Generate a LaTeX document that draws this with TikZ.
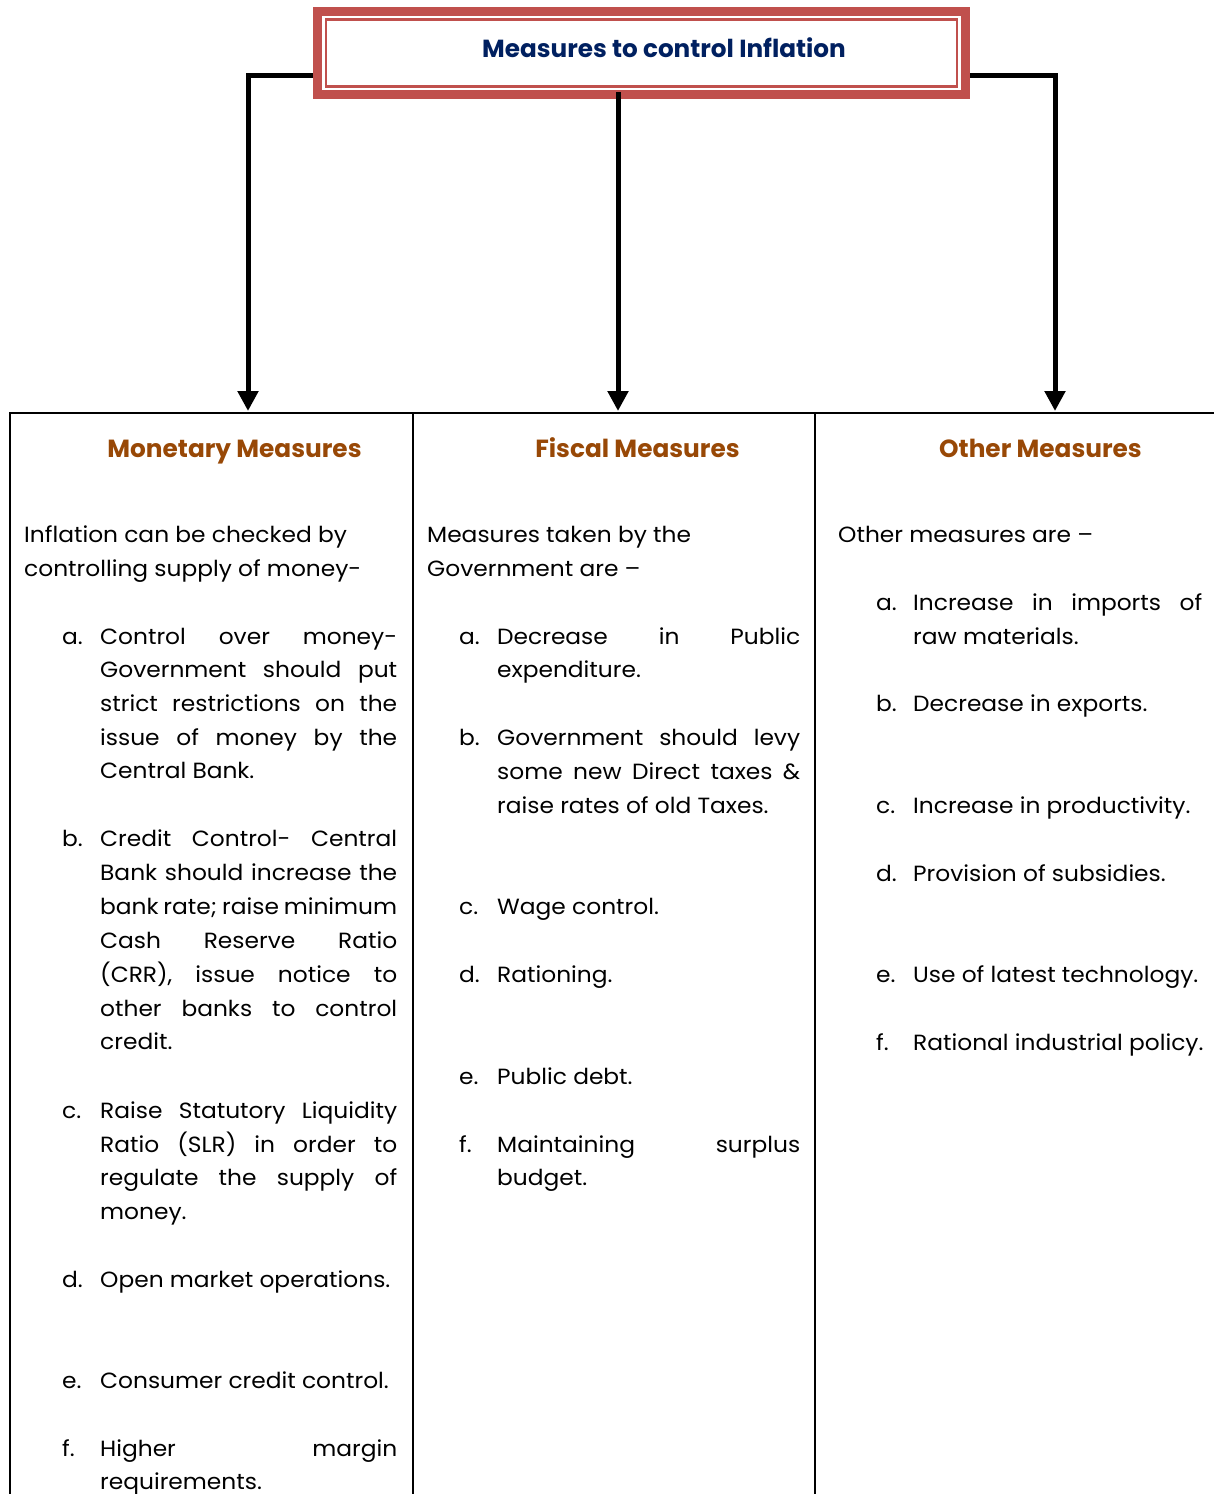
\documentclass[tikz,border=0pt]{standalone}
\usepackage{fontspec}
\setmainfont{Poppins}
\newfontfamily\bodyfont{Poppins}[FakeStretch=1.06]
\usetikzlibrary{arrows.meta}
\definecolor{boxred}{HTML}{C0504D}
\definecolor{navy}{HTML}{002060}
\definecolor{headbrown}{HTML}{984806}
\newcommand{\jA}[1]{\makebox[297pt][s]{#1}}
\newcommand{\jB}[1]{\makebox[303pt][s]{#1}}
\newcommand{\jC}[1]{\makebox[289pt][s]{#1}}
\begin{document}
\begin{tikzpicture}[x=1pt,y=-1pt,
  txt/.style={anchor=base west,inner sep=0pt,font=\bodyfont\fontsize{22}{26}\selectfont},
  head/.style={anchor=base,inner sep=0pt,font=\fontsize{24.8}{28}\selectfont\bfseries,text=headbrown},
  conn/.style={line width=5pt,-{Triangle[width=20pt,length=20pt]}},
  rulel/.style={line width=2pt}]
\useasboundingbox (0,0) rectangle (1214,1494);
% title box
\node[fill=boxred,minimum width=657pt,minimum height=92pt,inner sep=0pt] (tbox) at (641.5,53) {};
\fill[white] (322,16) rectangle (961,90);
\draw[boxred,line width=2.5pt] (326,19.5) rectangle (957,86.5);
\node[anchor=base,inner sep=0pt,font=\fontsize{24.7}{28}\selectfont\bfseries,text=navy] (title) at (664,57) {Measures to control Inflation};
% connectors
\coordinate (ls) at (313,75);
\coordinate (ms) at (618,92);
\coordinate (rs) at (970,75);
\coordinate (c1top) at (248,411);
\coordinate (c2top) at (618,411);
\coordinate (c3top) at (1055,411);
\draw[conn] (ls) -| (c1top);
\draw[conn] (ms) -- (c2top);
\draw[conn] (rs) -| (c3top);
% table
\draw[rulel] (10,1494) -- (10,413) -- (1214,413);
\draw[rulel] (413,413) -- (413,1494);
\draw[rulel] (815,413) -- (815,1494);
% column 1
\node[head] (h1) at (234.5,457) {Monetary Measures};
\node[txt] (m0a) at (24,542) {Inflation can be checked by};
\node[txt] (m0b) at (24,576) {controlling supply of money-};
\node[txt] (m1l) at (62,644) {a.};
\node[txt] (m1a) at (100,644) {\jA{Control over money-}};
\node[txt] (m1b) at (100,677) {\jA{Government should put}};
\node[txt] (m1c) at (100,711) {\jA{strict restrictions on the}};
\node[txt] (m1d) at (100,745) {\jA{issue of money by the}};
\node[txt] (m1e) at (100,778) {Central Bank.};
\node[txt] (m2l) at (62,846) {b.};
\node[txt] (m2a) at (100,846) {\jA{Credit Control- Central}};
\node[txt] (m2b) at (100,880) {\jA{Bank should increase the}};
\node[txt] (m2c) at (100,914) {\jA{bank rate; raise minimum}};
\node[txt] (m2d) at (100,948) {\jA{Cash Reserve Ratio}};
\node[txt] (m2e) at (100,982) {\jA{(CRR), issue notice to}};
\node[txt] (m2f) at (100,1016) {\jA{other banks to control}};
\node[txt] (m2g) at (100,1049) {credit.};
\node[txt] (m3l) at (62,1118) {c.};
\node[txt] (m3a) at (100,1118) {\jA{Raise Statutory Liquidity}};
\node[txt] (m3b) at (100,1152) {\jA{Ratio (SLR) in order to}};
\node[txt] (m3c) at (100,1185) {\jA{regulate the supply of}};
\node[txt] (m3d) at (100,1219) {money.};
\node[txt] (m4l) at (62,1287) {d.};
\node[txt] (m4a) at (100,1287) {Open market operations.};
\node[txt] (m5l) at (62,1388) {e.};
\node[txt] (m5a) at (100,1388) {Consumer credit control.};
\node[txt] (m6l) at (62,1456) {f.};
\node[txt] (m6a) at (100,1456) {\jA{Higher margin}};
\node[txt] (m6b) at (100,1489) {requirements.};
% column 2
\node[head] (h2) at (637.5,457) {Fiscal Measures};
\node[txt] (f0a) at (427,542) {Measures taken by the};
\node[txt] (f0b) at (427,576) {Government are –};
\node[txt] (f1l) at (459,644) {a.};
\node[txt] (f1a) at (497,644) {\jB{Decrease in Public}};
\node[txt] (f1b) at (497,677) {expenditure.};
\node[txt] (f2l) at (459,745) {b.};
\node[txt] (f2a) at (497,745) {\jB{Government should levy}};
\node[txt] (f2b) at (497,779) {\jB{some new Direct taxes \&}};
\node[txt] (f2c) at (497,813) {raise rates of old Taxes.};
\node[txt] (f3l) at (459,914) {c.};
\node[txt] (f3a) at (497,914) {Wage control.};
\node[txt] (f4l) at (459,982) {d.};
\node[txt] (f4a) at (497,982) {Rationing.};
\node[txt] (f5l) at (459,1084) {e.};
\node[txt] (f5a) at (497,1084) {Public debt.};
\node[txt] (f6l) at (459,1152) {f.};
\node[txt] (f6a) at (497,1152) {\jB{Maintaining surplus}};
\node[txt] (f6b) at (497,1185) {budget.};
% column 3
\node[head] (h3) at (1040.5,457) {Other Measures};
\node[txt] (o0a) at (838,542) {Other measures are –};
\node[txt] (o1l) at (876,610) {a.};
\node[txt] (o1a) at (913,610) {\jC{Increase in imports of}};
\node[txt] (o1b) at (913,644) {raw materials.};
\node[txt] (o2l) at (876,711) {b.};
\node[txt] (o2a) at (913,711) {Decrease in exports.};
\node[txt] (o3l) at (876,813) {c.};
\node[txt] (o3a) at (913,813) {Increase in productivity.};
\node[txt] (o4l) at (876,881) {d.};
\node[txt] (o4a) at (913,881) {Provision of subsidies.};
\node[txt] (o5l) at (876,982) {e.};
\node[txt] (o5a) at (913,982) {Use of latest technology.};
\node[txt] (o6l) at (876,1050) {f.};
\node[txt] (o6a) at (913,1050) {Rational industrial policy.};
\end{tikzpicture}
\end{document}
